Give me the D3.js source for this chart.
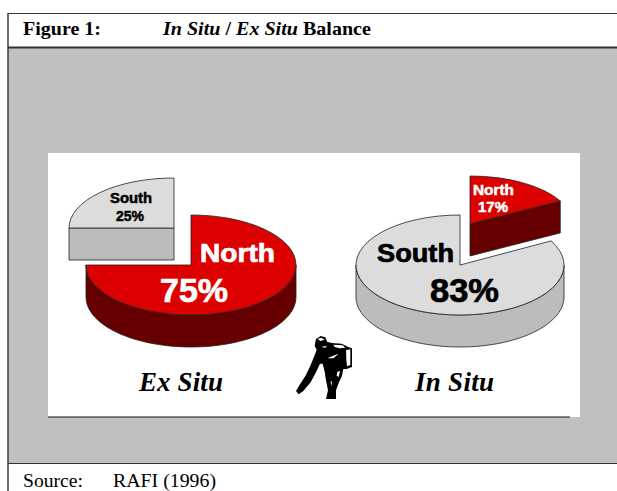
<!DOCTYPE html>
<html>
<head>
<meta charset="utf-8">
<style>
  html, body { margin: 0; padding: 0; background: #fff; overflow: hidden; }
  svg { display: block; }
  .serif { font-family: "Liberation Serif", serif; fill: #000; }
  .sans  { font-family: "Liberation Sans", sans-serif; font-weight: bold; }
</style>
<script src="https://cdn.jsdelivr.net/npm/d3@7"></script>
</head>
<body>
<div id="chart"></div>
<script>
const categories = ['North', 'South'];
const exSitu = [75, 25];
const inSitu = [17, 83];
const pieTitles = ['Ex Situ', 'In Situ'];

const topColor  = d3.scaleOrdinal(categories, ['#dc0000', '#dcdcdc']);
const sideColor = d3.scaleOrdinal(categories, ['#660000', '#bcbcbc']);
const DEPTH = 32;

const svg = d3.select('#chart').append('svg')
  .attr('width', 617)
  .attr('height', 491);

// page frame
svg.append('rect').attr('x', 8).attr('y', 48).attr('width', 609).attr('height', 415).attr('fill', '#c0c0c0');
svg.append('rect').attr('x', 48).attr('y', 153).attr('width', 532).attr('height', 264).attr('fill', '#fff');
svg.append('line').attr('x1', 48).attr('x2', 570).attr('y1', 417).attr('y2', 417).attr('stroke', '#111');

const frame = [[8, 13.5, 617, 13.5, 1.2], [8, 13, 8, 491, 1.4], [8, 47.5, 617, 47.5, 1.8], [8, 463.5, 617, 463.5, 1.1]];
svg.selectAll('.frame').data(frame).enter().append('line')
  .attr('class', 'frame')
  .attr('x1', d => d[0]).attr('y1', d => d[1])
  .attr('x2', d => d[2]).attr('y2', d => d[3])
  .attr('stroke', '#333')
  .attr('stroke-width', d => d[4]);

// header and source
svg.append('text').attr('class', 'serif').attr('x', 23).attr('y', 35)
  .attr('font-size', 18).attr('font-weight', 'bold')
  .attr('textLength', 78).attr('lengthAdjust', 'spacingAndGlyphs')
  .text('Figure 1:');
const title = svg.append('text').attr('class', 'serif').attr('x', 0).attr('y', 0)
  .attr('transform', 'translate(163,35) scale(1.115,1)')
  .attr('font-size', 18).attr('font-weight', 'bold');
title.append('tspan').attr('font-style', 'italic').text('In Situ');
title.append('tspan').text(' / ');
title.append('tspan').attr('font-style', 'italic').text('Ex Situ');
title.append('tspan').text(' Balance');

svg.append('text').attr('class', 'serif').attr('x', 23).attr('y', 487).attr('font-size', 18)
  .attr('textLength', 60).attr('lengthAdjust', 'spacingAndGlyphs').text('Source:');
svg.append('text').attr('class', 'serif').attr('x', 113).attr('y', 487).attr('font-size', 18)
  .attr('textLength', 103).attr('lengthAdjust', 'spacingAndGlyphs').text('RAFI (1996)');

// pies
const pie = d3.pie().sort(null).value(d => d);
const arc = d3.arc().innerRadius(0).outerRadius(100);

function drawSlice(g, d, cat, rx, ry) {
  const px = (a, r) => rx * r * Math.sin(a);
  const py = (a, r) => -ry * r * Math.cos(a);
  const wall = d3.area()
    .x(p => px(p[0], p[1]))
    .y0(p => py(p[0], p[1]))
    .y1(p => py(p[0], p[1]) + DEPTH);

  const lo = Math.max(d.startAngle, Math.PI / 2);
  const hi = Math.min(d.endAngle, Math.PI * 1.5);
  const walls = [];
  if (hi > lo) {
    walls.push(d3.range(0, 61).map(i => [lo + (hi - lo) * i / 60, 1]));
  }
  // flat cut faces that look towards the viewer
  if (Math.sin(d.endAngle) > 0.01) walls.push([[d.endAngle, 0], [d.endAngle, 1]]);
  if (-Math.sin(d.startAngle) > 0.01) walls.push([[d.startAngle, 0], [d.startAngle, 1]]);

  g.selectAll(null).data(walls).enter().append('path')
    .attr('d', wall)
    .attr('fill', sideColor(cat))
    .attr('stroke', '#222')
    .attr('stroke-width', 0.8);

  g.append('path')
    .attr('d', arc(d))
    .attr('transform', `scale(${rx / 100},${ry / 100})`)
    .attr('vector-effect', 'non-scaling-stroke')
    .attr('fill', topColor(cat))
    .attr('stroke', '#222')
    .attr('stroke-width', 0.8);
}

const pies = [
  { values: exSitu, cx: 191, cy: 265, rx: 105, ry: 50, dx: [0, -17], dy: [0, -37], ry2: 50, rx2: 105, order: [0, 1] },
  { values: inSitu, cx: 460, cy: 265, rx: 104, ry: 50, dx: [10, 0], dy: [-41, 0], ry2: 48, rx2: 103, order: [1, 0] }
];

pies.forEach(p => {
  const slices = pie(p.values);
  p.order.forEach(i => {
    const moved = p.dx[i] !== 0;
    const g = svg.append('g')
      .attr('transform', `translate(${p.cx + p.dx[i]},${p.cy + p.dy[i]})`);
    drawSlice(g, slices[i], categories[i], moved ? p.rx2 : p.rx, moved ? p.ry2 : p.ry);
  });
});

// slice labels: [x, baseline, width, size, colour, text]
const valueLabels = [
  [200, 262, 75, 25, '#fff', categories[0]],
  [160, 302, 68, 33, '#fff', exSitu[0] + '%'],
  [110, 203, 42, 14.5, '#000', categories[1]],
  [116, 221, 28, 14.5, '#000', exSitu[1] + '%'],
  [377, 262, 77, 25, '#000', categories[1]],
  [430, 302, 69, 33, '#000', inSitu[1] + '%'],
  [473, 195, 41, 14.5, '#fff', categories[0]],
  [478, 212, 30, 14.5, '#fff', inSitu[0] + '%']
];
svg.selectAll('.value').data(valueLabels).enter().append('text')
  .attr('class', 'value sans')
  .attr('x', d => d[0]).attr('y', d => d[1])
  .attr('textLength', d => d[2])
  .attr('lengthAdjust', 'spacingAndGlyphs')
  .attr('font-size', d => d[3])
  .attr('fill', d => d[4])
  .attr('stroke', d => d[4])
  .attr('stroke-width', d => d[3] < 20 ? 0.5 : 0.7)
  .text(d => d[5]);

// pie titles
svg.selectAll('.ptitle').data(pieTitles).enter().append('text')
  .attr('class', 'ptitle serif')
  .attr('x', (d, i) => [139, 415][i])
  .attr('y', 391)
  .attr('textLength', (d, i) => [84, 79][i])
  .attr('font-size', 27)
  .attr('font-weight', 'bold')
  .attr('font-style', 'italic')
  .text(d => d);

// hiker clip-art
const hiker = svg.append('g').attr('transform', 'translate(280,325) scale(0.3333)');
hiker.append('path').attr('fill', '#000').attr('d',
  'M48,198 L60,178 L78,150 L92,120 L102,95 L110,75 L104,62 L108,42 L122,33 L136,37 L141,50 ' +
  'L155,54 L185,56 L205,66 L216,70 L216,126 L200,132 L190,132 L186,152 L176,174 L168,196 ' +
  'L168,222 L138,222 L144,196 L138,166 L134,140 L128,116 L120,116 L108,142 L92,172 L70,198 L56,208 Z');
hiker.append('path').attr('fill', '#fff').attr('d',
  'M112,42 L124,38 L134,44 L122,48 Z M124,66 L140,62 L136,68 Z M160,59 L188,61 L196,68 L178,70 L164,66 Z ' +
  'M142,100 L160,92 L176,86 L160,100 Z M198,76 L211,73 L211,120 L201,124 L199,104 Z ' +
  'M172,140 L180,138 L176,156 L170,152 Z M152,170 L156,168 L154,184 Z');
</script>
</body>
</html>
